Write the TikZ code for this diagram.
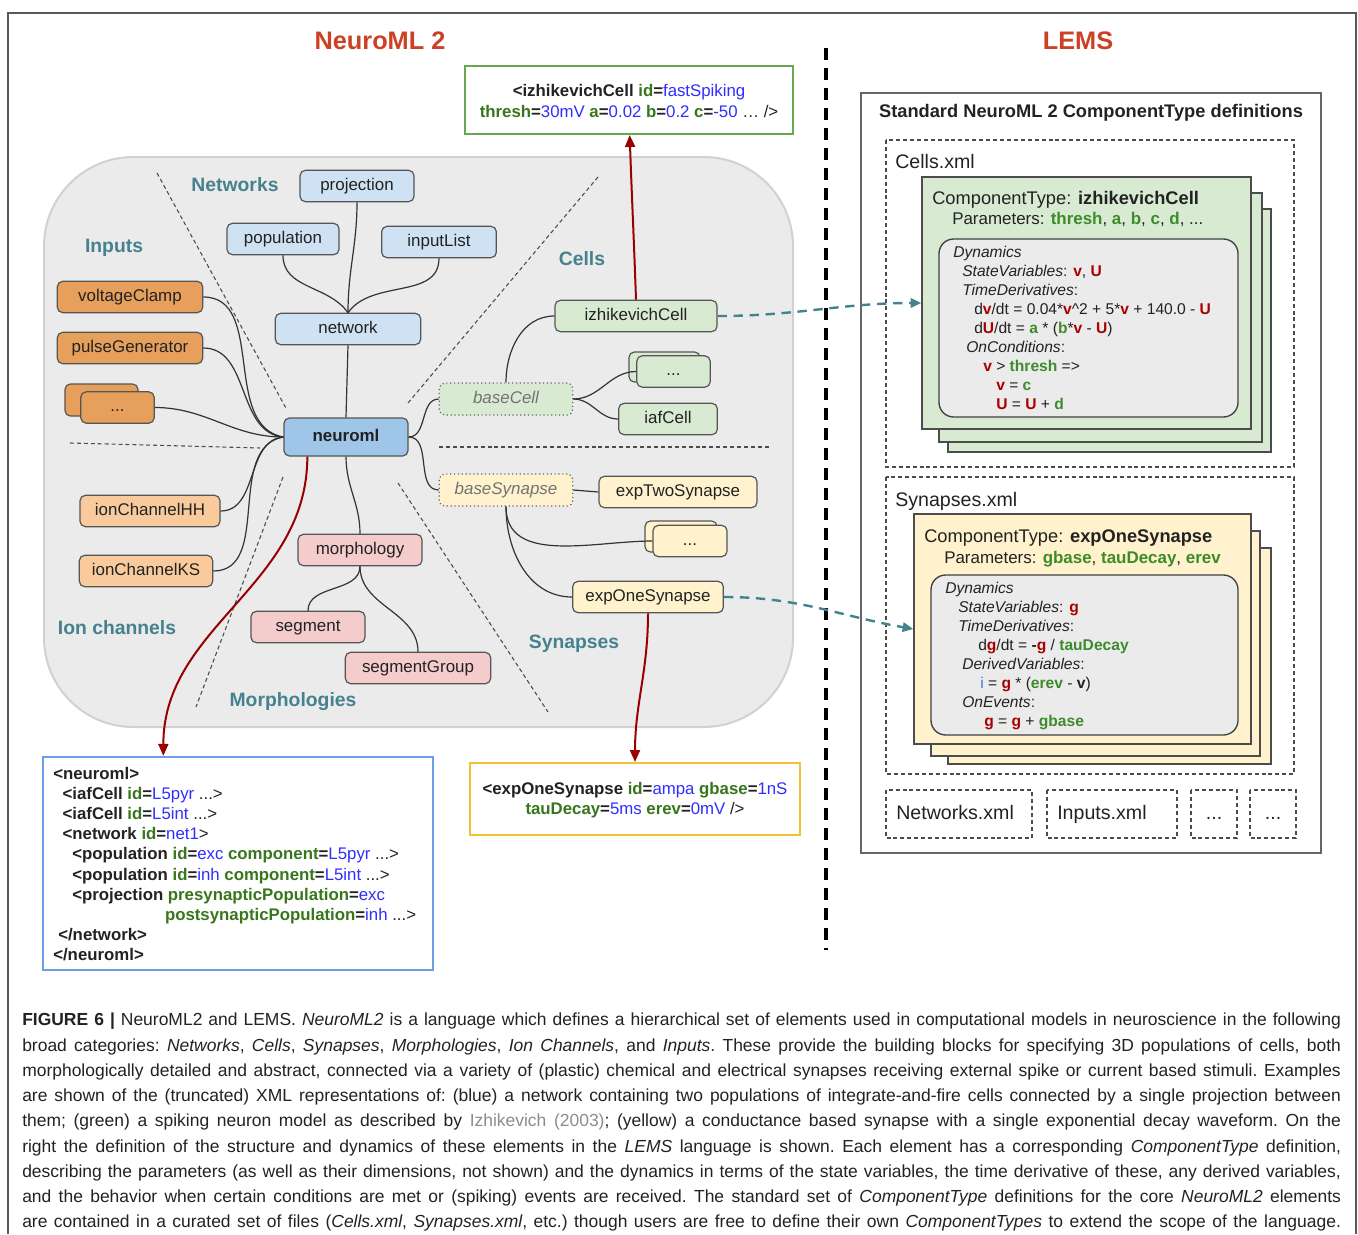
\documentclass[tikz,border=0pt]{standalone}
\usepackage{fontspec}
\setmainfont{Liberation Sans}
\usetikzlibrary{arrows.meta}

\definecolor{titlered}{HTML}{CC4125}
\definecolor{catteal}{HTML}{45818E}
\definecolor{arrowred}{HTML}{990000}
\definecolor{attrgreen}{HTML}{38761D}
\definecolor{parmgreen}{HTML}{3D8B2A}
\definecolor{valblue}{HTML}{2E2EFF}
\definecolor{varred}{HTML}{AA0000}
\definecolor{iblue}{HTML}{3C78D8}
\definecolor{edgegray}{HTML}{555555}
\definecolor{textgray}{HTML}{222222}
\definecolor{bggray}{HTML}{EBEBEB}
\definecolor{nblue}{HTML}{CFE2F3}
\definecolor{nbluedark}{HTML}{9FC5E8}
\definecolor{norange}{HTML}{E6A05C}
\definecolor{norangelight}{HTML}{F9CB9C}
\definecolor{npink}{HTML}{F4CCCC}
\definecolor{ngreen}{HTML}{D9EAD3}
\definecolor{nyellow}{HTML}{FFF2CC}
\definecolor{xmlgreen}{HTML}{6AA84F}
\definecolor{xmlblue}{HTML}{6D9EEB}
\definecolor{xmlyellow}{HTML}{F1C232}

\newcommand{\xa}[2]{\textcolor{attrgreen}{\textbf{#1}}\textbf{=}\textcolor{valblue}{#2}}
\newcommand{\rv}[1]{\textcolor{varred}{\textbf{#1}}}
\newcommand{\gp}[1]{\textcolor{parmgreen}{\textbf{#1}}}

\begin{document}
\begin{tikzpicture}[x=0.75pt,y=-0.75pt,
	nd/.style={draw=edgegray,line width=0.9pt,rounded corners=4pt,inner sep=0pt,minimum height=23.5pt,text height=9.2pt,text depth=2.7pt,font=\fontsize{12.7}{15}\selectfont,text=textgray},
	basend/.style={nd,dotted,draw=black!60,text=black!55,font=\fontsize{12.7}{15}\selectfont\itshape},
	cat/.style={anchor=base,text=catteal,font=\fontsize{14.5}{17}\selectfont\bfseries},
	link/.style={draw=black!80,line width=0.9pt},
	divider/.style={draw=black!70,line width=0.8pt,dash pattern=on 3pt off 2.2pt},
	redarr/.style={draw=arrowred,line width=1.5pt,-{Triangle[length=9pt,width=7.5pt]}},
	tealarr/.style={draw=catteal,line width=1.8pt,dash pattern=on 7pt off 5pt,-{Triangle[length=8pt,width=7pt]}},
	xmlbox/.style={line width=1.5pt,fill=white,inner sep=0pt},
	xmltext/.style={font=\fontsize{12.6}{15.1}\selectfont,text=textgray},
	stack/.style={draw=black!70,line width=1.1pt,inner sep=0pt},
	dynbox/.style={draw=black!75,line width=1pt,fill=bggray,rounded corners=11pt},
	dyntext/.style={anchor=north west,inner sep=0pt,align=left,font=\fontsize{11.7}{14.25}\selectfont,text=textgray},
	filebox/.style={draw=black!70,line width=0.8pt,dash pattern=on 3pt off 2.2pt},
	filetext/.style={anchor=base west,inner sep=0pt,font=\fontsize{14.7}{17}\selectfont,text=textgray}]
	\path[use as bounding box] (0,0) rectangle (1358,1234);
	\draw[draw=black!65,line width=1.1pt] (8,1234) -- (8,13) -- (1356,13) -- (1356,1234);

	\node[anchor=base,text=titlered,font=\fontsize{19}{22}\selectfont\bfseries] (t1) at (380,50) {NeuroML 2};
	\node[anchor=base,text=titlered,font=\fontsize{19}{22}\selectfont\bfseries] (t2) at (1078,50) {LEMS};
	\draw[line width=2.3pt,dash pattern=on 9pt off 6pt] (826,48) -- (826,950);

	\draw[draw=black!18,line width=1.5pt,fill=bggray,rounded corners=67pt] (44,157) rectangle (793,727);
	\draw[divider] (157,173) -- (287,410);
	\draw[divider] (70,443) -- (260,448);
	\draw[divider] (283,477) -- (196,707);
	\draw[divider] (398,483) -- (548,712);
	\draw[divider] (439,447) -- (770,447);
	\draw[divider] (598,177) -- (408,403);

	\node[cat] (c1) at (235,191) {Networks};
	\node[cat] (c2) at (114,252) {Inputs};
	\node[cat] (c3) at (582,265) {Cells};
	\node[cat] (c4) at (117,634) {Ion channels};
	\node[cat] (c5) at (293,706) {Morphologies};
	\node[cat] (c6) at (574,648) {Synapses};

	\draw[nd,fill=norange] (65,384) rectangle (138,416);
	\draw[nd,fill=ngreen] (629,352) rectangle (700,382);
	\draw[nd,fill=nyellow] (645,521) rectangle (717,552);

	\node[nd,fill=nbluedark,minimum width=93pt,minimum height=28.5pt,font=\fontsize{12.7}{15}\selectfont\bfseries] (1) at (346,437) {neuroml};
	\node[nd,fill=nblue,minimum width=109pt] (2) at (348,329) {network};
	\node[nd,fill=nblue,minimum width=84pt] (3) at (283,239) {population};
	\node[nd,fill=nblue,minimum width=85.5pt] (4) at (357,186) {projection};
	\node[nd,fill=nblue,minimum width=86pt] (5) at (439,242) {inputList};
	\node[nd,fill=norange,minimum width=109pt] (6) at (130,297) {voltageClamp};
	\node[nd,fill=norange,minimum width=109pt] (7) at (130,348) {pulseGenerator};
	\node[nd,fill=norange,minimum width=55pt] (8) at (117.5,407.5) {...};
	\node[nd,fill=norangelight,minimum width=105pt] (9) at (150,511) {ionChannelHH};
	\node[nd,fill=norangelight,minimum width=100pt] (10) at (146,571) {ionChannelKS};
	\node[nd,fill=npink,minimum width=93pt] (11) at (360,550) {morphology};
	\node[nd,fill=npink,minimum width=85.5pt] (12) at (308,627) {segment};
	\node[nd,fill=npink,minimum width=109pt] (13) at (418,668) {segmentGroup};
	\node[basend,fill=ngreen,minimum width=100pt,minimum height=24pt] (14) at (506,399) {baseCell};
	\node[nd,fill=ngreen,minimum width=121.5pt] (15) at (636,316) {izhikevichCell};
	\node[nd,fill=ngreen,minimum width=55pt] (16) at (673.5,371.5) {...};
	\node[nd,fill=ngreen,minimum width=74pt] (17) at (668,419) {iafCell};
	\node[basend,fill=nyellow,minimum width=100pt,minimum height=24pt] (18) at (506,490) {baseSynapse};
	\node[nd,fill=nyellow,minimum width=118.5pt] (19) at (678,492) {expTwoSynapse};
	\node[nd,fill=nyellow,minimum width=55.5pt] (20) at (690,541) {...};
	\node[nd,fill=nyellow,minimum width=113pt] (21) at (648,597) {expOneSynapse};

	\draw[link] (3.south) to[out=-90,in=125] (2.north);
	\draw[link] (4.south) to[out=-90,in=90] (2.north);
	\draw[link] (5.south) to[out=-90,in=55] (2.north);
	\draw[link] (2.south) -- (1.north);
	\draw[link] (6.east) to[out=0,in=170] (1.west);
	\draw[link] (7.east) to[out=0,in=175] (1.west);
	\draw[link] (8.east) to[out=0,in=180] (1.west);
	\draw[link] (9.east) to[out=0,in=185] (1.west);
	\draw[link] (10.east) to[out=0,in=190] (1.west);
	\draw[link] (1.south) to[out=-90,in=90] (11.north);
	\draw[link] (11.south) to[out=-90,in=90] (12.north);
	\draw[link] (11.south) to[out=-90,in=90] (13.north);
	\draw[link] (1.east) to[out=0,in=180] (14.west);
	\draw[link] (1.east) to[out=0,in=180] (18.west);
	\draw[link] (14.north) to[out=90,in=180] (15.west);
	\draw[link] (14.east) to[out=0,in=180] (16.west);
	\draw[link] (14.east) to[out=0,in=180] (17.west);
	\draw[link] (18.east) -- (19.west);
	\draw[link] (18.south) to[out=-90,in=180] (20.west);
	\draw[link] (18.south) to[out=-90,in=180] (21.west);

	\node[xmlbox,draw=xmlgreen,minimum width=246pt,minimum height=51pt] (22) at (629,100) {};
	\node[xmltext,align=center] (22t) at (629,101) {\textbf{<izhikevichCell} \xa{id}{fastSpiking}\\\xa{thresh}{30mV} \xa{a}{0.02} \xa{b}{0.2} \xa{c}{-50} … />};
	\node[xmlbox,draw=xmlblue,minimum width=292.5pt,minimum height=160pt] (23) at (238,863.5) {};
	\node[xmltext,anchor=north west,inner sep=0pt,align=left] (23t) at (53,767) {\textbf{<neuroml>}\\
		\hspace*{7pt}\textbf{<iafCell} \xa{id}{L5pyr} ...>\\
		\hspace*{7pt}\textbf{<iafCell} \xa{id}{L5int} ...>\\
		\hspace*{7pt}\textbf{<network} \xa{id}{net1}>\\
		\hspace*{14.25pt}\textbf{<population} \xa{id}{exc} \xa{component}{L5pyr} ...>\\
		\hspace*{14.25pt}\textbf{<population} \xa{id}{inh} \xa{component}{L5int} ...>\\
		\hspace*{14.25pt}\textbf{<projection} \xa{presynapticPopulation}{exc}\\
		\hspace*{83.8pt}\xa{postsynapticPopulation}{inh} ...>\\
		\hspace*{3.75pt}\textbf{</network>}\\
		\textbf{</neuroml>}};
	\node[xmlbox,draw=xmlyellow,minimum width=247.5pt,minimum height=54pt] (24) at (635,799) {};
	\node[xmltext,align=center] (24t) at (635,800) {\textbf{<expOneSynapse} \xa{id}{ampa} \xa{gbase}{1nS}\\\xa{tauDecay}{5ms} \xa{erev}{0mV} />};

	\draw[redarr] ([xshift=-29pt]1.south) to[out=-90,in=90] ([xshift=-56pt]23.north);
	\draw[redarr] (15.north) to[out=92,in=-88] ([xshift=0.5pt]22.south);
	\draw[redarr] (21.south) to[out=-90,in=90] (24.north);

	\draw[draw=black!60,line width=1.1pt] (861,93) rectangle (1321,853);
	\node[font=\fontsize{13.7}{16}\selectfont\bfseries,text=textgray] (std) at (1091,113) {Standard NeuroML 2 ComponentType definitions};

	\draw[filebox] (886,140) rectangle (1294,467);
	\node[filetext] (f1) at (895,168) {Cells.xml};
	\draw[stack,fill=ngreen] (948,209) rectangle (1271,452);
	\draw[stack,fill=ngreen] (939,193) rectangle (1262,442);
	\node[stack,fill=ngreen,minimum width=246.75pt,minimum height=189pt] (25) at (1086.5,303) {};
	\node[anchor=base west,inner sep=0pt,font=\fontsize{13.7}{16}\selectfont,text=textgray] (25h) at (932,204) {ComponentType: \textbf{izhikevichCell}};
	\node[anchor=base west,inner sep=0pt,font=\fontsize{12.7}{15}\selectfont,text=textgray] (25p) at (952,224) {Parameters: \gp{thresh}, \gp{a}, \gp{b}, \gp{c}, \gp{d}, ...};
	\draw[dynbox] (939,239) rectangle (1238,417);
	\node[dyntext] (25d) at (953,246) {\textit{Dynamics}\\
		\hspace*{6.75pt}\textit{StateVariables}: \rv{v}, \rv{U}\\
		\hspace*{6.75pt}\textit{TimeDerivatives}:\\
		\hspace*{15.75pt}d\rv{v}/dt = 0.04*\rv{v}\textasciicircum 2 + 5*\rv{v} + 140.0 - \rv{U}\\
		\hspace*{15.75pt}d\rv{U}/dt = \gp{a} * (\gp{b}*\rv{v} - \rv{U})\\
		\hspace*{9.75pt}\textit{OnConditions}:\\
		\hspace*{22.5pt}\rv{v} > \gp{thresh} =>\\
		\hspace*{32.25pt}\rv{v} = \gp{c}\\
		\hspace*{32.25pt}\rv{U} = \rv{U} + \gp{d}};

	\draw[filebox] (886,477) rectangle (1294,774);
	\node[filetext] (f2) at (895,506) {Synapses.xml};
	\draw[stack,fill=nyellow] (948,548) rectangle (1271,764);
	\draw[stack,fill=nyellow] (931,531) rectangle (1260,756);
	\node[stack,fill=nyellow,minimum width=252.75pt,minimum height=172.5pt] (26) at (1082.5,629) {};
	\node[anchor=base west,inner sep=0pt,font=\fontsize{13.7}{16}\selectfont,text=textgray] (26h) at (924,542) {ComponentType: \textbf{expOneSynapse}};
	\node[anchor=base west,inner sep=0pt,font=\fontsize{12.7}{15}\selectfont,text=textgray] (26p) at (944,563) {Parameters: \gp{gbase}, \gp{tauDecay}, \gp{erev}};
	\draw[dynbox] (931,575) rectangle (1238,735);
	\node[dyntext] (26d) at (945,582) {\textit{Dynamics}\\
		\hspace*{9.75pt}\textit{StateVariables}: \rv{g}\\
		\hspace*{9.75pt}\textit{TimeDerivatives}:\\
		\hspace*{24.75pt}d\rv{g}/dt = \textbf{-}\rv{g} / \gp{tauDecay}\\
		\hspace*{12.75pt}\textit{DerivedVariables}:\\
		\hspace*{26.25pt}\textcolor{iblue}{i} = \rv{g} * (\gp{erev} - \textbf{v})\\
		\hspace*{12.75pt}\textit{OnEvents}:\\
		\hspace*{29.25pt}\rv{g} = \rv{g} + \gp{gbase}};

	\draw[filebox] (886,790) rectangle (1032,838);
	\draw[filebox] (1047,790) rectangle (1177,838);
	\draw[filebox] (1191,790) rectangle (1237,838);
	\draw[filebox] (1250,790) rectangle (1296,838);
	\node[filetext] (f3) at (896,819) {Networks.xml};
	\node[filetext] (f4) at (1057,819) {Inputs.xml};
	\node[filetext,anchor=base] (f5) at (1214,819) {...};
	\node[filetext,anchor=base] (f6) at (1273,819) {...};

	\draw[tealarr] (15.east) to[out=0,in=180] (25.west);
	\draw[tealarr] (21.east) to[out=0,in=170] (26.west);

	\node[anchor=north west,inner sep=0pt,text width=989pt,align=justify,font=\fontsize{13.1}{18.94}\selectfont,text=textgray] (cap) at (22,1013) {\frenchspacing\parfillskip=0pt
		\textbf{FIGURE 6 |} NeuroML2 and LEMS. \textit{NeuroML2} is a language which defines a hierarchical set of elements used in computational models in neuroscience in the following\linebreak
		broad categories: \textit{Networks}, \textit{Cells}, \textit{Synapses}, \textit{Morphologies}, \textit{Ion Channels}, and \textit{Inputs}. These provide the building blocks for specifying 3D populations of cells, both\linebreak
		morphologically detailed and abstract, connected via a variety of (plastic) chemical and electrical synapses receiving external spike or current based stimuli. Examples\linebreak
		are shown of the (truncated) XML representations of: (blue) a network containing two populations of integrate-and-fire cells connected by a single projection between\linebreak
		them; (green) a spiking neuron model as described by \textcolor{black!45}{Izhikevich (2003)}; (yellow) a conductance based synapse with a single exponential decay waveform. On the\linebreak
		right the definition of the structure and dynamics of these elements in the \textit{LEMS} language is shown. Each element has a corresponding \textit{ComponentType} definition,\linebreak
		describing the parameters (as well as their dimensions, not shown) and the dynamics in terms of the state variables, the time derivative of these, any derived variables,\linebreak
		and the behavior when certain conditions are met or (spiking) events are received. The standard set of \textit{ComponentType} definitions for the core \textit{NeuroML2} elements\linebreak
		are contained in a curated set of files (\textit{Cells.xml}, \textit{Synapses.xml}, etc.) though users are free to define their own \textit{ComponentTypes} to extend the scope of the language.\par};
\end{tikzpicture}
\end{document}
